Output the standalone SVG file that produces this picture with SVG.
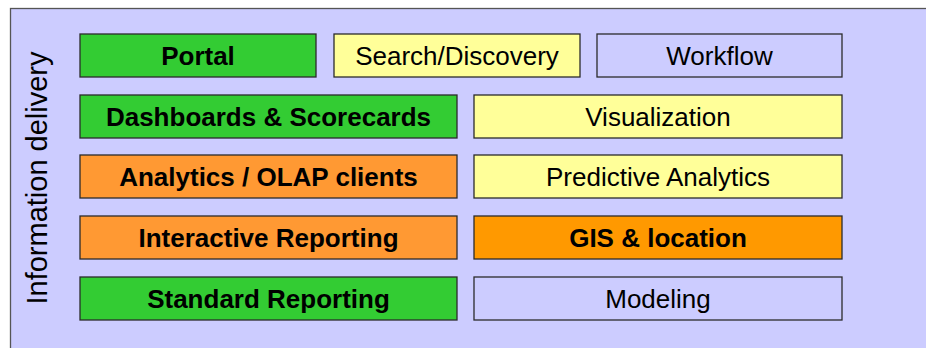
<svg xmlns="http://www.w3.org/2000/svg" width="926" height="348" viewBox="0 0 926 348">
  <style>
    .box { stroke: #2b2b2b; stroke-width: 1.3; }
    .green { fill: #33CC33; }
    .yellow { fill: #FFFF99; }
    .orange { fill: #FF9933; }
    .amber { fill: #FF9900; }
    .lav { fill: #CCCCFF; }
    text { font-family: "Liberation Sans", Arial, sans-serif; fill: #000; text-anchor: middle; }
    .b { font-size: 26px; font-weight: bold; }
    .r { font-size: 26px; }
  </style>
  <rect width="926" height="348" fill="#ffffff"/>
  <!-- background panel -->
  <rect x="10.5" y="8.5" width="930" height="350" fill="#CCCCFF" stroke="#555" stroke-width="1.3"/>
  <text transform="translate(47,178) rotate(-90)" font-size="29">Information delivery</text>

  <g id="portal"><rect class="box green" x="80" y="34" width="236" height="43"/><text class="b" x="198" y="65">Portal</text></g>
  <g id="search"><rect class="box yellow" x="334" y="34" width="246" height="43"/><text class="r" x="457" y="65">Search/Discovery</text></g>
  <g id="workflow"><rect class="box lav" x="597" y="34" width="245" height="43"/><text class="r" x="719.5" y="65">Workflow</text></g>

  <g id="dashboards"><rect class="box green" x="80" y="95" width="377" height="43"/><text class="b" x="268.5" y="126">Dashboards &amp; Scorecards</text></g>
  <g id="visualization"><rect class="box yellow" x="474" y="95" width="368" height="43"/><text class="r" x="658" y="126">Visualization</text></g>

  <g id="analytics"><rect class="box orange" x="80" y="155" width="377" height="43"/><text class="b" x="268.5" y="186">Analytics / OLAP clients</text></g>
  <g id="predictive"><rect class="box yellow" x="474" y="155" width="368" height="43"/><text class="r" x="658" y="186">Predictive Analytics</text></g>

  <g id="interactive"><rect class="box orange" x="80" y="216" width="377" height="43"/><text class="b" x="268.5" y="247">Interactive Reporting</text></g>
  <g id="gis"><rect class="box amber" x="474" y="216" width="368" height="43"/><text class="b" x="658" y="247">GIS &amp; location</text></g>

  <g id="standard"><rect class="box green" x="80" y="277" width="377" height="43"/><text class="b" x="268.5" y="308">Standard Reporting</text></g>
  <g id="modeling"><rect class="box lav" x="474" y="277" width="368" height="43"/><text class="r" x="658" y="308">Modeling</text></g>

  <g id="connectors"/>
</svg>
